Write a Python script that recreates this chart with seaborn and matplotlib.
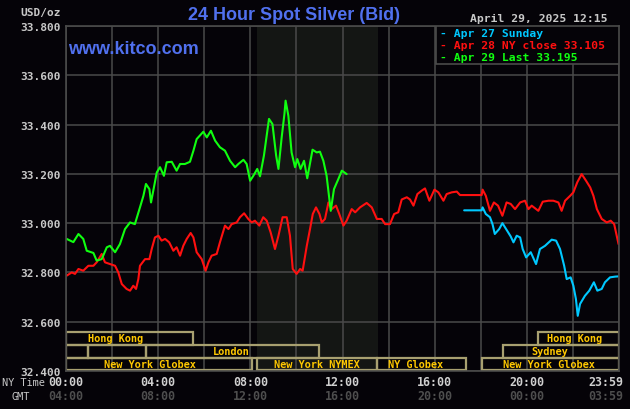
import numpy as np
import pandas as pd
import seaborn as sns
import matplotlib.pyplot as plt
from matplotlib.patches import Rectangle
from matplotlib.transforms import blended_transform_factory, ScaledTranslation

# ---- data (NY time in hours, price in USD/oz) ----
t_apr29 = [0.03, 0.32, 0.54, 0.75, 0.90, 1.19, 1.33, 1.55, 1.77, 1.91, 2.13, 2.34, 2.56, 2.78,
           2.99, 3.21, 3.36, 3.47, 3.62, 3.69, 3.83, 3.94, 4.08, 4.25, 4.37, 4.59, 4.80, 4.95,
           5.16, 5.38, 5.53, 5.67, 5.96, 6.11, 6.29, 6.47, 6.68, 6.90, 7.12, 7.34, 7.48, 7.70,
           7.84, 7.99, 8.13, 8.30, 8.42, 8.59, 8.81, 8.96, 9.12, 9.22, 9.36, 9.48, 9.53, 9.65,
           9.79, 9.94, 10.04, 10.18, 10.33, 10.47, 10.70, 10.88, 11.02, 11.17, 11.31, 11.49,
           11.63, 11.82, 11.97, 12.18]
p_apr29 = [32.936, 32.923, 32.956, 32.936, 32.888, 32.879, 32.848, 32.854, 32.902, 32.908,
           32.882, 32.915, 32.976, 33.003, 32.996, 33.064, 33.111, 33.159, 33.138, 33.084,
           33.152, 33.206, 33.227, 33.192, 33.247, 33.249, 33.213, 33.240, 33.240, 33.249,
           33.294, 33.341, 33.371, 33.348, 33.375, 33.335, 33.308, 33.294, 33.253, 33.227,
           33.240, 33.257, 33.240, 33.172, 33.192, 33.220, 33.190, 33.274, 33.423, 33.402,
           33.274, 33.220, 33.348, 33.443, 33.497, 33.436, 33.287, 33.227, 33.260, 33.220,
           33.253, 33.182, 33.298, 33.287, 33.290, 33.253, 33.192, 33.050, 33.138, 33.179,
           33.213, 33.199]

t_apr28 = [0.03, 0.25, 0.39, 0.54, 0.75, 0.97, 1.19, 1.33, 1.55, 1.69, 1.91, 2.13, 2.27, 2.42,
           2.63, 2.78, 2.92, 3.04, 3.14, 3.21, 3.43, 3.62, 3.72, 3.86, 4.01, 4.15, 4.30, 4.48,
           4.66, 4.80, 4.95, 5.09, 5.24, 5.41, 5.53, 5.67, 5.89, 6.06, 6.18, 6.32, 6.54, 6.68,
           6.90, 7.05, 7.19, 7.41, 7.55, 7.73, 7.91, 8.06, 8.20, 8.39, 8.56, 8.71, 8.88, 9.07,
           9.22, 9.40, 9.58, 9.72, 9.84, 10.01, 10.16, 10.27, 10.45, 10.59, 10.71, 10.85,
           11.00, 11.10, 11.24, 11.39, 11.53, 11.72, 11.86, 12.04, 12.18, 12.40, 12.55, 12.76,
           13.05, 13.27, 13.49, 13.70, 13.85, 14.06, 14.24, 14.42, 14.57, 14.79, 14.93, 15.08,
           15.25, 15.44, 15.58, 15.77, 15.99, 16.16, 16.38, 16.52, 16.74, 16.96, 17.10, 18.04,
           18.08, 18.22, 18.40, 18.57, 18.75, 18.94, 19.12, 19.30, 19.49, 19.71, 19.92, 20.07,
           20.21, 20.50, 20.69, 20.94, 21.15, 21.37, 21.51, 21.66, 21.88, 22.02, 22.19, 22.38,
           22.57, 22.75, 22.89, 23.04, 23.25, 23.47, 23.64, 23.79, 23.93, 23.98]
p_apr28 = [32.787, 32.800, 32.794, 32.814, 32.807, 32.827, 32.827, 32.841, 32.875, 32.841,
           32.834, 32.827, 32.800, 32.753, 32.733, 32.726, 32.746, 32.733, 32.773, 32.827,
           32.854, 32.854, 32.895, 32.942, 32.949, 32.929, 32.936, 32.922, 32.888, 32.902,
           32.868, 32.908, 32.936, 32.960, 32.942, 32.882, 32.854, 32.807, 32.841, 32.868,
           32.875, 32.922, 32.990, 32.976, 32.996, 33.003, 33.024, 33.040, 33.017, 33.003,
           33.010, 32.990, 33.024, 33.010, 32.963, 32.895, 32.949, 33.024, 33.024, 32.949,
           32.814, 32.794, 32.814, 32.807, 32.908, 32.976, 33.037, 33.064, 33.037, 33.003,
           33.017, 33.084, 33.057, 33.071, 33.037, 32.990, 33.010, 33.057, 33.044, 33.064,
           33.082, 33.064, 33.017, 33.017, 32.996, 32.996, 33.037, 33.044, 33.096, 33.105,
           33.096, 33.071, 33.118, 33.132, 33.141, 33.091, 33.136, 33.125, 33.091, 33.118,
           33.125, 33.128, 33.114, 33.114, 33.136, 33.111, 33.050, 33.084, 33.071, 33.030,
           33.084, 33.078, 33.057, 33.084, 33.091, 33.057, 33.071, 33.050, 33.087, 33.091,
           33.091, 33.084, 33.050, 33.091, 33.111, 33.125, 33.166, 33.199, 33.172, 33.145,
           33.111, 33.057, 33.017, 33.003, 33.010, 32.996, 32.936, 32.915]

t_apr27 = [17.28, 18.04, 18.08, 18.22, 18.40, 18.51, 18.61, 18.80, 18.94, 19.12, 19.30, 19.42,
           19.56, 19.71, 19.82, 19.97, 20.17, 20.40, 20.57, 20.79, 21.08, 21.27, 21.44, 21.62,
           21.73, 21.90, 22.02, 22.13, 22.21, 22.31, 22.52, 22.71, 22.91, 23.06, 23.25, 23.39,
           23.61, 23.83, 23.98]
p_apr27 = [33.052, 33.052, 33.064, 33.037, 33.024, 32.996, 32.956, 32.976, 33.000, 32.973,
           32.946, 32.922, 32.949, 32.942, 32.895, 32.861, 32.882, 32.834, 32.895, 32.908,
           32.933, 32.929, 32.895, 32.827, 32.773, 32.780, 32.746, 32.692, 32.624, 32.672,
           32.705, 32.726, 32.760, 32.726, 32.733, 32.760, 32.780, 32.783, 32.784]

legend_labels = ["Apr 27 Sunday", "Apr 28 NY close 33.105", "Apr 29 Last 33.195"]
y_ticks = [32.4, 32.6, 32.8, 33.0, 33.2, 33.4, 33.6, 33.8]
ny_times = ["00:00", "04:00", "08:00", "12:00", "16:00", "20:00", "23:59"]
gmt_times = ["04:00", "08:00", "12:00", "16:00", "20:00", "00:00", "03:59"]
time_pos = [0, 4, 8, 12, 16, 20, 23.98]

# trading sessions: row (0 = top), start, end, label
sess_row = [0, 0, 1, 1, 1, 1, 2, 2, 2, 2]
sess_start = [0, 20.5, 0, 0.97, 3.47, 18.97, 0, 8.28, 13.51, 18.04]
sess_end = [5.5, 24, 0.97, 3.47, 10.98, 24, 8.09, 13.51, 17.35, 24]
sess_name = ["Hong Kong", "Hong Kong", "", "", "London", "Sydney",
             "New York Globex", "New York NYMEX", "NY Globex", "New York Globex"]
sess_label_x = [2.13, 22.05, 0, 0, 7.17, 20.98, 3.66, 10.89, 15.19, 20.98]
nymex_open, nymex_close = 8.28, 13.52

# ---- style ----
BG = "#050308"
GRID = "#4a4a4a"
MONO = ["DejaVu Sans Mono"]
sns.set_style("dark", {"axes.facecolor": BG, "figure.facecolor": BG})
plt.rcParams["font.family"] = ["DejaVu Sans"]

fig = plt.figure(figsize=(6.3, 4.1), dpi=100)
ax = fig.add_axes([66 / 630, 38 / 410, 553 / 630, 345 / 410])
ax.set_facecolor(BG)
ax.set_xlim(0, 24)
ax.set_ylim(32.4, 33.8)

ax.axvspan(nymex_open, nymex_close, color="#141614", zorder=0, lw=0)

ax.set_xticks(np.arange(0, 25, 2))
ax.set_xticklabels([])
ax.set_yticks(y_ticks)
ax.set_yticklabels([f"{v:.3f}" for v in y_ticks], family=MONO, weight="bold",
                   fontsize=8, color="#c8c8c8")
ax.tick_params(axis="both", length=0)
ax.tick_params(axis="y", pad=4)
ax.grid(True, color=GRID, lw=1.1, zorder=0.5)
ax.set_axisbelow(True)
for s in ax.spines.values():
    s.set_color(GRID)
    s.set_linewidth(1.2)
    s.set_zorder(5)

sns.lineplot(x=t_apr28, y=p_apr28, ax=ax, color="#ff1010", lw=1.5, zorder=3)
sns.lineplot(x=t_apr27, y=p_apr27, ax=ax, color="#00c8ff", lw=1.5, zorder=3)
sns.lineplot(x=t_apr29, y=p_apr29, ax=ax, color="#10ff10", lw=1.5, zorder=4)
ax.set_xlabel("")
ax.set_ylabel("")

# session boxes
row_tops = [32.558, 32.506, 32.453]
row_bots = [32.506, 32.453, 32.404]
for r, a, b, name, lx in zip(sess_row, sess_start, sess_end, sess_name, sess_label_x):
    ax.add_patch(Rectangle((a, row_bots[r]), b - a, row_tops[r] - row_bots[r],
                           fill=False, ec="#a8a070", lw=1.6, zorder=2))
    if name:
        ax.text(lx, (row_tops[r] + row_bots[r]) / 2, name, ha="center", va="center",
                family=MONO, weight="bold", fontsize=7.4, color="#ffc800", zorder=3)

# legend box
ax.add_patch(Rectangle((0.669, 0.891), 0.331, 0.109, transform=ax.transAxes,
                       fc=BG, ec=GRID, lw=1.2, zorder=6))
for lab, col, y in zip(legend_labels, ["#00c8ff", "#ff1010", "#10ff10"], [0.979, 0.944, 0.909]):
    ax.text(0.676, y, "- " + lab, transform=ax.transAxes, ha="left", va="center",
            family=MONO, weight="bold", fontsize=8.2, color=col, zorder=7)

# time labels below axis
tr = blended_transform_factory(ax.transData, fig.transFigure)
for i, (x, ny, gm) in enumerate(zip(time_pos, ny_times, gmt_times)):
    ha = "center"
    t = tr
    if i == len(time_pos) - 1:
        ha = "right"
        t = tr + ScaledTranslation(0.05, 0, fig.dpi_scale_trans)
    fig.text(x, 1 - 383 / 410, ny, transform=t, ha=ha, va="center",
             family=MONO, weight="bold", fontsize=8.4, color="#d0d0d0")
    fig.text(x, 1 - 397 / 410, gm, transform=t, ha=ha, va="center",
             family=MONO, weight="bold", fontsize=8.4, color="#4e4e4e")
fig.text(2 / 630, 1 - 383 / 410, "NY Time", ha="left", va="center", family=MONO,
         fontsize=7.4, color="#c8c8c8")
fig.text(11 / 630, 1 - 397 / 410, "GMT", ha="left", va="center", family=MONO,
         fontsize=7.4, color="#c8c8c8")

# header texts
fig.text(294 / 630, 1 - 15 / 410, "24 Hour Spot Silver (Bid)", ha="center", va="center",
         family=["Liberation Sans"], weight="bold", fontsize=13, color="#5070ee")
fig.text(608 / 630, 1 - 19 / 410, "April 29, 2025 12:15", ha="right", va="center",
         family=MONO, weight="bold", fontsize=8.2, color="#c8c8c8")
fig.text(61 / 630, 1 - 13 / 410, "USD/oz", ha="right", va="center",
         family=MONO, weight="bold", fontsize=8, color="#c8c8c8")
ax.text(0.004, 0.935, "www.kitco.com", transform=ax.transAxes, ha="left", va="center",
        family=["Liberation Sans"], weight="bold", fontsize=13, color="#5070ee", zorder=7)

fig.savefig("out.png", dpi=100, facecolor=BG)
